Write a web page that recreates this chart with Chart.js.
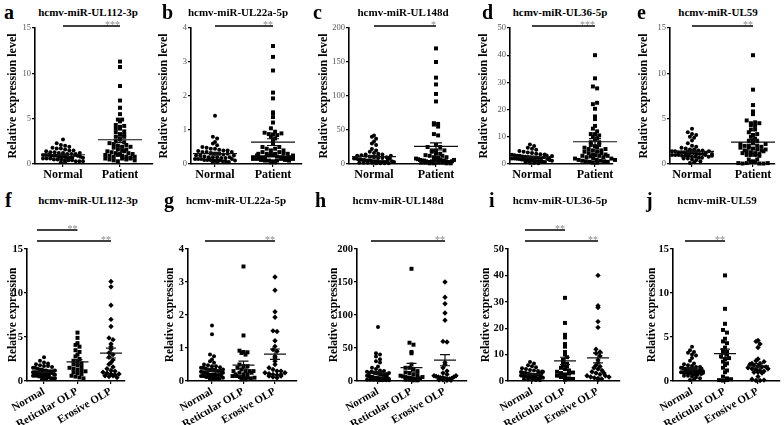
<!DOCTYPE html>
<html>
<head>
<meta charset="utf-8">
<script src="https://cdn.jsdelivr.net/npm/chart.js@4.4.1/dist/chart.umd.min.js"></script>
<style>
  body { margin: 0; background: #fff; }
  #fig { position: relative; width: 784px; height: 425px; overflow: hidden; font-family: "Liberation Serif", "Times New Roman", serif; }
  #fig canvas { position: absolute; }
  .letter { position: absolute; font-weight: bold; font-size: 20px; line-height: 20px; }
  .title { position: absolute; font-weight: bold; font-size: 11px; line-height: 12px; white-space: nowrap; transform: translateX(-50%); }
</style>
</head>
<body>
<div id="fig"></div>
<script>
// values (relative expression, one number per sample)
const titles = ["hcmv-miR-UL112-3p", "hcmv-miR-UL22a-5p", "hcmv-miR-UL148d", "hcmv-miR-UL36-5p", "hcmv-miR-UL59"];
const letters = ["a", "b", "c", "d", "e", "f", "g", "h", "i", "j"];
const topGroups = ["Normal", "Patient"];
const lowGroups = ["Normal", "Reticular OLP", "Erosive OLP"];
const yMax = [15, 4, 200, 50, 15];
const yStep = [5, 1, 50, 10, 5];
const topStars = ["***", "**", "*", "***", "**"];
const lowSig = [
  [[0, 1, "**"], [0, 2, "**"]],
  [[0, 2, "**"]],
  [[0, 2, "**"]],
  [[0, 1, "**"], [0, 2, "**"]],
  [[0, 1, "**"]]
];

const normal112 = [2.7, 2.3, 2.1, 2.0, 1.9, 1.8, 1.7, 1.7, 1.6, 1.5, 1.5, 1.4, 1.3, 1.3, 1.2, 1.2, 1.1, 1.1, 1.0, 1.0, 1.0, 0.9, 0.9, 0.9, 0.8, 0.8, 0.8, 0.7, 0.7, 0.7, 0.6, 0.6, 0.6, 0.5, 0.5, 0.5, 0.4, 0.4, 0.4, 0.3, 0.3, 0.3, 0.2, 0.2, 1.0, 0.9, 1.1, 0.8, 1.2, 0.7];
const reticular112 = [5.5, 4.9, 4.3, 4.1, 3.9, 3.5, 3.3, 3.0, 2.8, 2.5, 2.3, 2.2, 2.0, 1.9, 1.8, 1.6, 1.5, 1.4, 1.3, 1.2, 1.1, 1.0, 0.9, 0.8, 0.6, 0.5, 0.4, 0.3];
const erosive112 = [11.3, 10.7, 8.6, 7.0, 6.2, 4.9, 4.7, 4.2, 3.9, 3.6, 3.2, 3.0, 2.7, 2.4, 2.1, 1.9, 1.6, 1.4, 1.2, 1.0, 0.9, 0.8, 0.7, 0.6, 0.5, 0.8, 1.1, 0.6, 0.4];

const normal22 = [1.42, 0.8, 0.75, 0.65, 0.6, 0.55, 0.5, 0.48, 0.45, 0.45, 0.42, 0.4, 0.4, 0.38, 0.35, 0.35, 0.32, 0.3, 0.3, 0.28, 0.25, 0.25, 0.22, 0.2, 0.2, 0.2, 0.18, 0.18, 0.15, 0.15, 0.15, 0.12, 0.12, 0.12, 0.1, 0.1, 0.1, 0.08, 0.08, 0.06, 0.05, 0.05, 0.2, 0.25, 0.3, 0.15, 0.1, 0.35];
const normal22Extra = [1.68];
const reticular22 = [3.47, 1.38, 0.92, 0.88, 0.87, 0.85, 0.8, 0.3, 0.2, 0.15, 0.5, 0.45, 0.4, 0.35, 0.3, 0.3, 0.25, 0.2, 0.2, 0.15, 0.12, 0.1, 0.1, 0.08, 0.05, 0.3, 0.45, 0.25, 0.05, 0.1];
const erosive22 = [3.15, 2.75, 2.1, 1.93, 1.52, 1.5, 1.22, 1.05, 0.95, 0.9, 0.75, 0.7, 0.6, 0.5, 0.4, 0.35, 0.3, 0.25, 0.22, 0.2, 0.18, 0.15, 0.12, 0.1, 0.2, 0.3, 0.15, 0.25];

const normal148 = [42, 40, 37, 33, 30, 28, 14, 12, 22, 20, 18, 16, 15, 14, 13, 12, 11, 10, 9, 9, 8, 8, 7, 7, 6, 6, 5, 5, 5, 4, 4, 4, 3, 3, 3, 3, 2, 2, 2, 2, 1, 1, 1, 1, 6, 8, 10, 12, 4, 3];
const normal148Extra = [82];
const reticular148 = [170, 58, 55, 44, 42, 25, 20, 20, 18, 15, 13, 12, 10, 9, 8, 7, 6, 5, 5, 4, 3, 3, 2, 2, 1, 1, 4, 6];
const erosive148 = [150, 127, 117, 103, 92, 60, 59, 28, 25, 20, 15, 12, 10, 8, 7, 6, 5, 5, 4, 3, 3, 2, 2, 1, 1, 4, 6, 8];

const normal36 = [7.2, 6.6, 6.0, 5.6, 5.2, 4.8, 4.5, 4.2, 4.0, 3.8, 3.6, 3.4, 3.2, 3.0, 3.0, 2.8, 2.7, 2.6, 2.5, 2.4, 2.3, 2.2, 2.1, 2.0, 2.0, 1.9, 1.8, 1.7, 1.6, 1.5, 1.4, 1.3, 1.2, 1.1, 1.0, 0.9, 0.8, 0.7, 0.6, 0.5, 0.4, 0.3, 2.5, 3.1, 1.8, 2.2, 1.5, 2.9, 3.5, 1.2];
const reticular36 = [31.5, 22, 17.5, 16.5, 14, 13, 11, 10, 8, 7, 6, 5.5, 5, 4.5, 4, 3.5, 3, 2.5, 2, 1.5, 1.2, 1, 0.8, 0.5, 2.8, 3.2, 6.5, 9];
const erosive36 = [40, 28.5, 27.8, 22.5, 20.3, 12, 11, 10.5, 9.5, 8, 7, 6, 5, 4.5, 4, 3.5, 3, 2.5, 2, 1.5, 1.2, 1, 0.8, 0.5, 2, 3, 5.5, 1.5];

const normal59 = [3.9, 3.5, 3.3, 3.2, 3.0, 2.9, 2.6, 2.3, 2.0, 1.9, 1.8, 1.7, 1.6, 1.6, 1.5, 1.5, 1.4, 1.4, 1.3, 1.3, 1.3, 1.2, 1.2, 1.2, 1.1, 1.1, 1.1, 1.0, 1.0, 1.0, 0.9, 0.9, 0.9, 0.8, 0.8, 0.7, 0.7, 0.6, 0.6, 0.5, 0.4, 0.3, 0.1, 1.2, 1.0, 1.4, 0.8, 1.1, 0.9, 0.2];
const reticular59 = [12, 8.2, 6.5, 5.8, 5.5, 4.8, 4.5, 4.3, 3.8, 3.5, 3.2, 3.0, 2.8, 2.5, 2.2, 2.0, 1.8, 1.5, 1.2, 1.0, 0.5, 0.3, 0.1, 0.05, 3.3, 2.6, 0.1, 0.2];
const erosive59 = [4.6, 4.5, 4.2, 3.8, 2.0, 1.0, 2.5, 2.3, 2.0, 1.9, 1.8, 1.7, 1.6, 1.5, 1.4, 1.3, 1.2, 1.1, 1.0, 0.9, 0.5, 0.2, 0.05, 0.05, 0.1, 1.6, 2.2, 1.4];

const normals = [normal112, normal22, normal148, normal36, normal59];
const normalsLow = [normal112, normal22.concat(normal22Extra), normal148.concat(normal148Extra), normal36, normal59];
const reticulars = [reticular112, reticular22, reticular148, reticular36, reticular59];
const erosives = [erosive112, erosive22, erosive148, erosive36, erosive59];

// page geometry of each panel (axis x, axis end, group centres, y-title gap, letter x, title centre)
const topGeo = [
  { ax: 35, ex: 153, gx: [63, 120], yw: 21, lx: 4, tx: 88 },
  { ax: 191, ex: 302, gx: [215, 273], yw: 26, lx: 162, tx: 238 },
  { ax: 349, ex: 452, gx: [374, 436], yw: 24, lx: 313, tx: 403 },
  { ax: 510, ex: 613, gx: [532, 595], yw: 25, lx: 482, tx: 560 },
  { ax: 670, ex: 775, gx: [692, 753], yw: 25, lx: 637, tx: 718 }
];
const lowGeo = [
  { ax: 27, ex: 125, gx: [44, 78, 111], yw: 13, lx: 5, tx: 88 },
  { ax: 188, ex: 297, gx: [212, 243, 275], yw: 17, lx: 164, tx: 236 },
  { ax: 357, ex: 467, gx: [378, 412, 445], yw: 22, lx: 315, tx: 398 },
  { ax: 508, ex: 620, gx: [532, 565, 598], yw: 21, lx: 489, tx: 560 },
  { ax: 673, ex: 780, gx: [692, 724, 758], yw: 20, lx: 646, tx: 717 }
];

const SERIF = '"Liberation Serif", "Times New Roman", serif';
Chart.defaults.font.family = SERIF;
Chart.defaults.color = "#000";
const fig = document.getElementById("fig");

function addDiv(cls, txt, x, y) {
  const d = document.createElement("div");
  d.className = cls;
  d.textContent = txt;
  d.style.left = x + "px";
  d.style.top = y + "px";
  fig.appendChild(d);
}

function meanSem(vals) {
  const n = vals.length;
  const m = vals.reduce((a, b) => a + b, 0) / n;
  const sd = Math.sqrt(vals.reduce((a, b) => a + (b - m) * (b - m), 0) / (n - 1));
  return { mean: m, sem: sd / Math.sqrt(n) };
}

// dot-plot layout: points falling in the same row are spread sideways
function swarm(vals, gi, ppy, ppx, sp, maxHalf) {
  const rows = {};
  vals.forEach(v => {
    const b = Math.round(v * ppy / 3.8);
    (rows[b] = rows[b] || []).push(v);
  });
  const pts = [];
  Object.values(rows).forEach(list => {
    const n = list.length;
    let step = sp;
    if (n > 1 && (n - 1) * sp / 2 > maxHalf) step = 2 * maxHalf / (n - 1);
    list.forEach((v, i) => pts.push({ x: gi + (i - (n - 1) / 2) * step / ppx, y: v }));
  });
  return pts;
}

function makePanel(geo, row, idx, groups, sets, sig) {
  const top = row === 0 ? 28 : 249;
  const zero = row === 0 ? 164 : 381;
  const padTop = row === 0 ? 12 : 32;
  const xh = row === 0 ? 25 : 44;
  const padRight = 12;
  const ys = geo.yw + 8;
  const left = geo.ax - ys;
  const w = geo.ex + padRight - left;
  const h = padTop + (zero - top) + xh;
  const n = groups.length;
  const s = (geo.gx[n - 1] - geo.gx[0]) / (n - 1);
  const xmin = -(geo.gx[0] - geo.ax) / s;
  const xmax = (geo.ex - geo.gx[0]) / s;
  const ppy = (zero - top) / yMax[idx];

  const cv = document.createElement("canvas");
  cv.width = w; cv.height = h;
  cv.style.left = left + "px";
  cv.style.top = (top - padTop) + "px";
  fig.appendChild(cv);

  const styles = ["circle", "rect", "rectRot"];
  const radii = [2, 2.8, 2.7];
  const half = row === 0 ? 22 : 11;
  const cap = row === 0 ? 6 : 5;

  new Chart(cv, {
    type: "scatter",
    data: {
      datasets: sets.map((vals, gi) => ({
        data: swarm(vals, gi, ppy, s, row === 0 ? 4.2 : 4, row === 0 ? 20 : 11),
        pointStyle: styles[gi],
        pointRadius: radii[gi],
        backgroundColor: "#000",
        borderWidth: 0,
        clip: false
      }))
    },
    options: {
      responsive: false,
      animation: false,
      devicePixelRatio: 1,
      layout: { padding: { top: padTop, right: padRight, left: 0, bottom: 0 } },
      plugins: { legend: { display: false }, tooltip: { enabled: false } },
      scales: {
        x: {
          type: "linear",
          min: xmin, max: xmax,
          afterBuildTicks: sc => { sc.ticks = groups.map((g, i) => ({ value: i })); },
          afterFit: sc => { sc.height = xh; },
          ticks: {
            autoSkip: false,
            callback: v => groups[v],
            minRotation: row === 0 ? 0 : 30,
            maxRotation: row === 0 ? 0 : 30,
            padding: 1,
            font: { size: row === 0 ? 12 : 11, weight: "bold" },
            color: "#000"
          },
          grid: { display: true, drawOnChartArea: false, drawTicks: true, tickLength: 3, color: "#000", lineWidth: 1.2 },
          border: { display: true, color: "#000", width: 1.6 }
        },
        y: {
          min: 0, max: yMax[idx],
          afterFit: sc => { sc.width = ys; },
          ticks: {
            stepSize: yStep[idx],
            padding: 1,
            font: row === 0 ? { size: 8.5 } : { size: 10.5, weight: "bold" },
            color: row === 0 ? "#555" : "#000"
          },
          grid: { display: true, drawOnChartArea: false, drawTicks: true, tickLength: 3, color: "#000", lineWidth: 1.2 },
          border: { display: true, color: "#000", width: 1.6 },
          title: {
            display: true,
            text: row === 0 ? "Relative expression level" : "Relative expression",
            font: { size: row === 0 ? 12 : 11.5, weight: "bold" },
            padding: { top: 0, bottom: 0 },
            color: "#000"
          }
        }
      }
    },
    plugins: [{
      id: "meanSem",
      afterDatasetsDraw(chart) {
        const { ctx, chartArea, scales: { x, y } } = chart;
        ctx.save();
        ctx.strokeStyle = "#111";
        ctx.lineWidth = 1.2;
        sets.forEach((vals, gi) => {
          const st = meanSem(vals);
          const cx = x.getPixelForValue(gi);
          const ym = y.getPixelForValue(st.mean);
          const ya = y.getPixelForValue(st.mean + st.sem);
          const yb = y.getPixelForValue(st.mean - st.sem);
          ctx.beginPath();
          ctx.moveTo(cx - half, ym); ctx.lineTo(cx + half, ym);
          ctx.moveTo(cx, ya); ctx.lineTo(cx, yb);
          ctx.moveTo(cx - cap, ya); ctx.lineTo(cx + cap, ya);
          ctx.moveTo(cx - cap, yb); ctx.lineTo(cx + cap, yb);
          ctx.stroke();
        });
        // significance bars
        ctx.lineWidth = 1.5;
        ctx.strokeStyle = "#000";
        ctx.font = "10px " + SERIF;
        ctx.fillStyle = "#8a8a8a";
        ctx.textAlign = "right";
        ctx.textBaseline = "alphabetic";
        sig.forEach(([a, b, txt], k) => {
          const ly = row === 0 ? chartArea.top - 2 : chartArea.top - 8 - (sig.length - 1 - k) * 11;
          const x1 = x.getPixelForValue(a) - (row === 0 ? 0 : 7);
          const x2 = x.getPixelForValue(b);
          ctx.beginPath();
          ctx.moveTo(x1, ly); ctx.lineTo(x2, ly);
          ctx.stroke();
          ctx.fillText(txt, x2, ly + 1.5);
        });
        ctx.restore();
      }
    }]
  });
}

for (let i = 0; i < 5; i++) {
  const g = topGeo[i];
  addDiv("letter", letters[i], g.lx, 2);
  addDiv("title", titles[i], g.tx, 6);
  makePanel(g, 0, i, topGroups, [normals[i], reticulars[i].concat(erosives[i])], [[0, 1, topStars[i]]]);
}
for (let i = 0; i < 5; i++) {
  const g = lowGeo[i];
  addDiv("letter", letters[i + 5], g.lx, 190);
  addDiv("title", titles[i], g.tx, 194);
  makePanel(g, 1, i, lowGroups, [normalsLow[i], reticulars[i], erosives[i]], lowSig[i]);
}
</script>
</body>
</html>
